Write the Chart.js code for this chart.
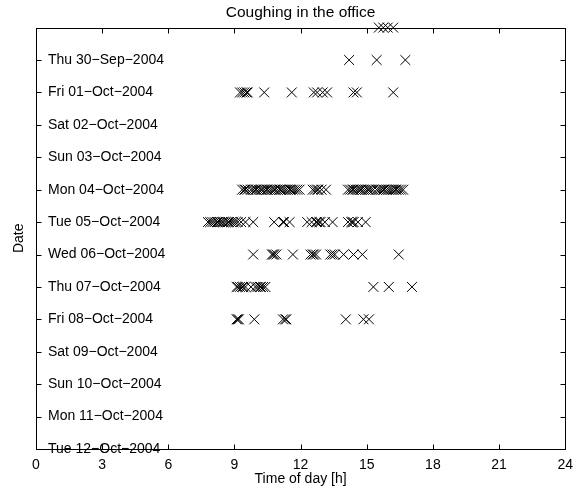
<!DOCTYPE html>
<html><head><meta charset="utf-8">
<script src="https://cdn.jsdelivr.net/npm/chart.js@4/dist/chart.umd.min.js"></script>
<style>html,body{margin:0;padding:0;background:#fff}#wrap{width:581px;height:488px}</style>
</head><body><div id="wrap"><canvas id="c" width="581" height="488"></canvas></div>
<script>
// Row index 0 = bottom (Tue 12-Oct), 13 = top (Wed 29-Sep)
const dayLabels = ['Tue 12−Oct−2004','Mon 11−Oct−2004','Sun 10−Oct−2004','Sat 09−Oct−2004',
  'Fri 08−Oct−2004','Thu 07−Oct−2004','Wed 06−Oct−2004','Tue 05−Oct−2004','Mon 04−Oct−2004',
  'Sun 03−Oct−2004','Sat 02−Oct−2004','Fri 01−Oct−2004','Thu 30−Sep−2004','Wed 29−Sep−2004'];
const hiddenTickLabels = ['Wed 29−Sep−2004'];
const xTicks = [0,3,6,9,12,15,18,21,24];

// Cough times (hour of day) per date
const wed29 = [15.55,15.75,15.95,16.2];
const thu30 = [14.2,15.45,16.75];
const fri01 = [9.25,9.35,9.45,9.55,9.6,10.35,11.6,12.6,12.75,13.0,13.2,14.4,14.55,16.2];
const sat02 = [];
const sun03 = [];
const mon04 = [9.35,9.45,9.5,9.6,9.75,9.85,9.95,10.0,10.1,10.2,10.25,10.35,10.45,10.5,10.6,10.7,
  10.8,10.85,10.95,11.05,11.1,11.2,11.3,11.4,11.5,11.55,11.65,11.75,11.85,11.95,
  12.55,12.65,12.75,12.8,12.95,13.15,
  14.15,14.25,14.35,14.4,14.5,14.6,14.7,14.75,14.85,14.95,15.05,15.1,15.2,15.3,15.45,15.55,
  15.65,15.75,15.8,15.9,16.0,16.1,16.2,16.3,16.35,16.45,16.55,16.65];
const tue05 = [7.8,7.9,8.0,8.1,8.2,8.25,8.35,8.45,8.5,8.6,8.7,8.75,8.85,8.95,9.05,9.15,9.3,9.5,9.85,
  10.8,11.2,11.25,11.5,
  12.3,12.5,12.7,12.75,12.85,12.9,13.1,13.45,
  14.15,14.3,14.35,14.4,14.6,14.95];
const wed06 = [9.85,10.7,10.75,10.8,10.9,11.65,12.45,12.55,12.6,12.7,13.35,13.45,13.55,13.95,14.4,14.8,16.45];
const thu07 = [9.1,9.15,9.25,9.35,9.4,9.5,9.75,9.95,10.05,10.15,10.2,10.3,10.4,15.3,16.0,17.05];
const fri08 = [9.1,9.15,9.2,9.9,11.2,11.3,11.35,14.05,14.85,15.1];
const sat09 = [];
const sun10 = [];
const mon11 = [];
const tue12 = [];

const rows = [tue12,mon11,sun10,sat09,fri08,thu07,wed06,tue05,mon04,sun03,sat02,fri01,thu30,wed29];
const points = [];
rows.forEach((hrs, i) => hrs.forEach(h => points.push({x: h, y: i})));

const FONT = 'Liberation Sans, Arial, Helvetica, sans-serif';

const framePlugin = {
  id: 'frame',
  afterDatasetsDraw(chart) {
    const {ctx, chartArea: a, scales: {x, y}} = chart;
    const L = Math.round(a.left) + 0.5, R = Math.round(a.right) + 0.5;
    const T = Math.round(a.top) + 0.5, B = Math.round(a.bottom) + 0.5;
    ctx.save();
    ctx.strokeStyle = '#000';
    ctx.lineWidth = 1;
    ctx.strokeRect(L, T, R - L, B - T);
    const len = 5;
    ctx.beginPath();
    xTicks.forEach(v => {
      const px = Math.round(x.getPixelForValue(v)) + 0.5;
      ctx.moveTo(px, B); ctx.lineTo(px, B - len);
      ctx.moveTo(px, T); ctx.lineTo(px, T + len);
    });
    dayLabels.forEach((_, i) => {
      const py = Math.round(y.getPixelForValue(i)) + 0.5;
      ctx.moveTo(L, py); ctx.lineTo(L + len, py);
      ctx.moveTo(R, py); ctx.lineTo(R - len, py);
    });
    ctx.stroke();
    ctx.restore();
  }
};

new Chart(document.getElementById('c'), {
  type: 'scatter',
  data: {
    datasets: [{
      data: points,
      pointStyle: 'crossRot',
      pointRadius: 7,
      pointHoverRadius: 7,
      borderColor: '#000',
      backgroundColor: '#000',
      borderWidth: 1,
      clip: false
    }]
  },
  options: {
    responsive: false,
    animation: false,
    devicePixelRatio: 1,
    layout: {padding: {left: 0, right: 11, top: 0, bottom: 0}},
    plugins: {
      legend: {display: false},
      tooltip: {enabled: false},
      title: {
        display: true,
        fullSize: false,
        text: 'Coughing in the office',
        color: '#000',
        font: {family: FONT, size: 15.5, weight: 'normal'},
        padding: {top: 3, bottom: 6}
      }
    },
    scales: {
      x: {
        type: 'linear', min: 0, max: 24,
        afterBuildTicks: s => { s.ticks = xTicks.map(v => ({value: v})); },
        afterFit: s => { s.height = 39; },
        grid: {display: false, drawTicks: false},
        border: {display: false},
        ticks: {color: '#000', font: {family: FONT, size: 14}, padding: 8, maxRotation: 0, autoSkip: false},
        title: {display: true, text: 'Time of day [h]', color: '#000',
          font: {family: FONT, size: 14}, padding: {top: 0, bottom: 0.5}}
      },
      y: {
        type: 'linear', min: 0, max: dayLabels.length - 1,
        afterBuildTicks: s => { s.ticks = dayLabels.map((_, i) => ({value: i})); },
        afterFit: s => { s.width = 36; },
        grid: {display: false, drawTicks: false},
        border: {display: false},
        ticks: {
          mirror: true, padding: 12, autoSkip: false, color: '#000',
          font: {family: FONT, size: 14},
          callback: v => { const l = dayLabels[v]; return hiddenTickLabels.includes(l) ? '' : l; }
        },
        title: {display: true, text: 'Date', color: '#000',
          font: {family: FONT, size: 14}, padding: {top: 11, bottom: 0}}
      }
    }
  },
  plugins: [framePlugin]
});
</script>
</body></html>
